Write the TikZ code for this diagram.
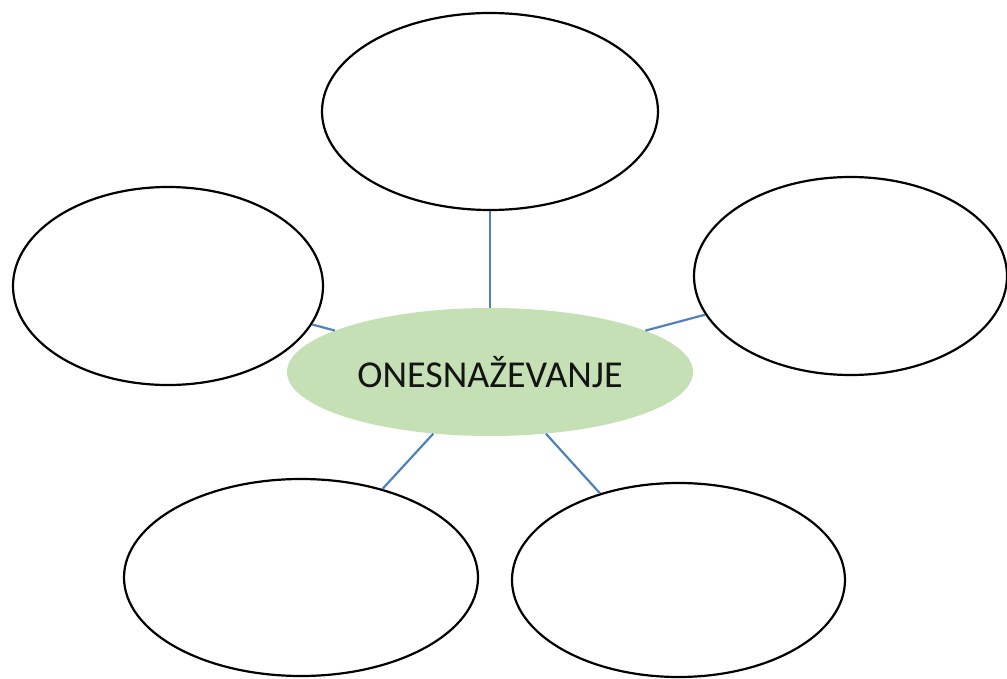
\documentclass[tikz,border=0pt]{standalone}
\usepackage{fontspec}
\setmainfont{Carlito}
\usetikzlibrary{shapes.geometric}
\definecolor{linkblue}{RGB}{79,129,189}
\definecolor{hubgreen}{RGB}{197,224,180}
\definecolor{textdark}{RGB}{20,20,20}
\tikzset{
  bubble/.style={ellipse, draw=black, line width=2.2pt, fill=white, inner sep=0pt},
  hub/.style={ellipse, fill=hubgreen, draw=none, inner sep=0pt, minimum width=406pt, minimum height=128pt,
    text=textdark, font=\fontsize{38}{44}\selectfont},
  link/.style={draw=linkblue, line width=2.2pt}
}
\begin{document}
\begin{tikzpicture}[x=1pt,y=-1pt]
\useasboundingbox (0,0) rectangle (1007,679);
\clip (0,0) rectangle (1007,679);
\node[hub] (c) at (490,372) {ONESNAŽEVANJE};
\node[bubble, minimum width=336pt, minimum height=197pt] (t) at (490,111.5) {};
\node[bubble, minimum width=310pt, minimum height=198pt] (l) at (168,286) {};
\node[bubble, minimum width=313pt, minimum height=198pt] (r) at (850.5,276) {};
\node[bubble, minimum width=354pt, minimum height=197pt] (bl) at (301,577.5) {};
\node[bubble, minimum width=333pt, minimum height=194pt] (br) at (678.5,580) {};
\path[link] (t) -- (c);
\path[link] (l) -- (c);
\path[link] (r) -- (c);
\path[link] (bl) -- (c);
\path[link] (br) -- (c);
\end{tikzpicture}
\end{document}
